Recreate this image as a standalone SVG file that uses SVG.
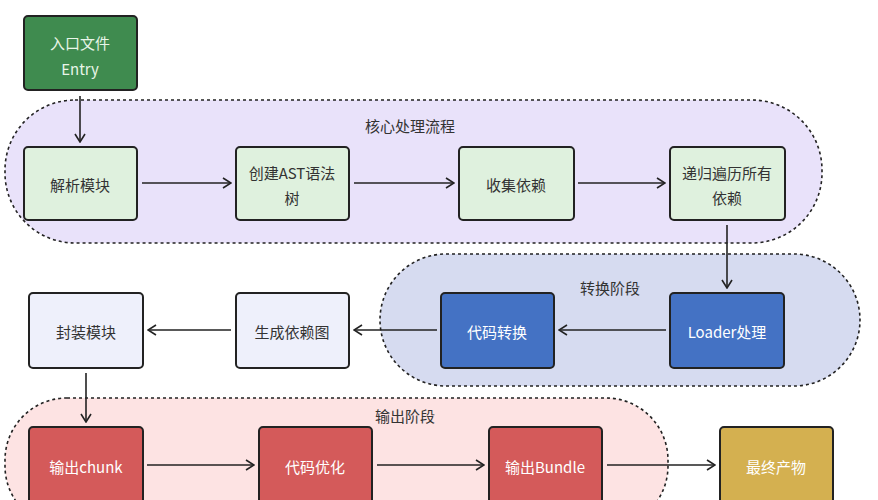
<svg xmlns="http://www.w3.org/2000/svg" width="878" height="500" viewBox="0 0 878 500">
<style>
text{font-family:"Noto Sans CJK SC","Noto Sans",sans-serif;font-size:15px;text-anchor:middle;dominant-baseline:central}
.cl{stroke:#222;stroke-width:1.6;stroke-dasharray:3 3}
.n{stroke:#222;stroke-width:2}
.g{fill:#dff1de}.w{fill:#eef0fb}.b{fill:#4472c4}.r{fill:#d45a5a}.y{fill:#d4b050}
.lt{fill:#fff}.dk{fill:#333}
.e{stroke:#222;stroke-width:1.6;fill:none;marker-end:url(#a)}
</style>
<defs><marker id="a" markerWidth="10" markerHeight="12" refX="9" refY="6" orient="auto" markerUnits="userSpaceOnUse"><path d="M1,1 L9,6 L1,11" fill="none" stroke="#222" stroke-width="1.6"/></marker></defs>
<rect width="878" height="500" fill="#fff"/>
<g id="core"><rect class="cl" x="5" y="100" width="817" height="143" rx="70" fill="#e9e2fa"/><text x="410" y="125" class="dk">核心处理流程</text></g>
<g id="transform"><rect class="cl" x="380" y="254" width="480" height="132" rx="66" fill="#d6dbf0"/><text x="610" y="287" class="dk">转换阶段</text></g>
<g id="output"><rect class="cl" x="5" y="398" width="663" height="130" rx="62" fill="#fde3e3"/><text x="405" y="415" class="dk">输出阶段</text></g>
<g id="entry"><rect class="n" x="24" y="16" width="113" height="74" rx="4" fill="#3f8b4f"/><text x="80" y="42" fill="#e8f5e8">入口文件</text><text x="80" y="68" fill="#e8f5e8">Entry</text></g>
<g id="parse"><rect class="n g" x="24" y="147" width="113" height="73" rx="4"/><text x="80" y="184" class="dk">解析模块</text></g>
<g id="ast"><rect class="n g" x="236" y="147" width="113" height="73" rx="4"/><text x="292" y="172" class="dk">创建AST语法</text><text x="292" y="197" class="dk">树</text></g>
<g id="collect"><rect class="n g" x="459" y="147" width="115" height="73" rx="4"/><text x="516" y="184" class="dk">收集依赖</text></g>
<g id="recur"><rect class="n g" x="670" y="147" width="115" height="73" rx="4"/><text x="727" y="172" class="dk">递归遍历所有</text><text x="727" y="197" class="dk">依赖</text></g>
<g id="pack"><rect class="n w" x="29" y="293" width="114" height="75" rx="4"/><text x="86" y="331" class="dk">封装模块</text></g>
<g id="graph"><rect class="n w" x="236" y="293" width="113" height="75" rx="4"/><text x="292" y="331" class="dk">生成依赖图</text></g>
<g id="transcode"><rect class="n b" x="441" y="293" width="113" height="75" rx="4"/><text x="497" y="331" class="lt">代码转换</text></g>
<g id="loader"><rect class="n b" x="670" y="293" width="114" height="75" rx="4"/><text x="727" y="331" class="lt">Loader处理</text></g>
<g id="chunk"><rect class="n r" x="29" y="427" width="114" height="80" rx="4"/><text x="86" y="466" class="lt">输出chunk</text></g>
<g id="opt"><rect class="n r" x="259" y="427" width="113" height="80" rx="4"/><text x="315" y="466" class="lt">代码优化</text></g>
<g id="bundle"><rect class="n r" x="489" y="427" width="113" height="80" rx="4"/><text x="545" y="466" class="lt">输出Bundle</text></g>
<g id="final"><rect class="n y" x="720" y="427" width="113" height="80" rx="4"/><text x="776" y="466" class="lt">最终产物</text></g>
<g id="edges">
<path class="e" d="M80,96 V142"/>
<path class="e" d="M142,183 H231"/>
<path class="e" d="M354,183 H454"/>
<path class="e" d="M578,183 H665"/>
<path class="e" d="M727,225 V288"/>
<path class="e" d="M666,330 H559"/>
<path class="e" d="M437,330 H354"/>
<path class="e" d="M231,330 H148"/>
<path class="e" d="M86,373 V422"/>
<path class="e" d="M147,465 H254"/>
<path class="e" d="M377,465 H484"/>
<path class="e" d="M607,465 H715"/>
</g>
</svg>
